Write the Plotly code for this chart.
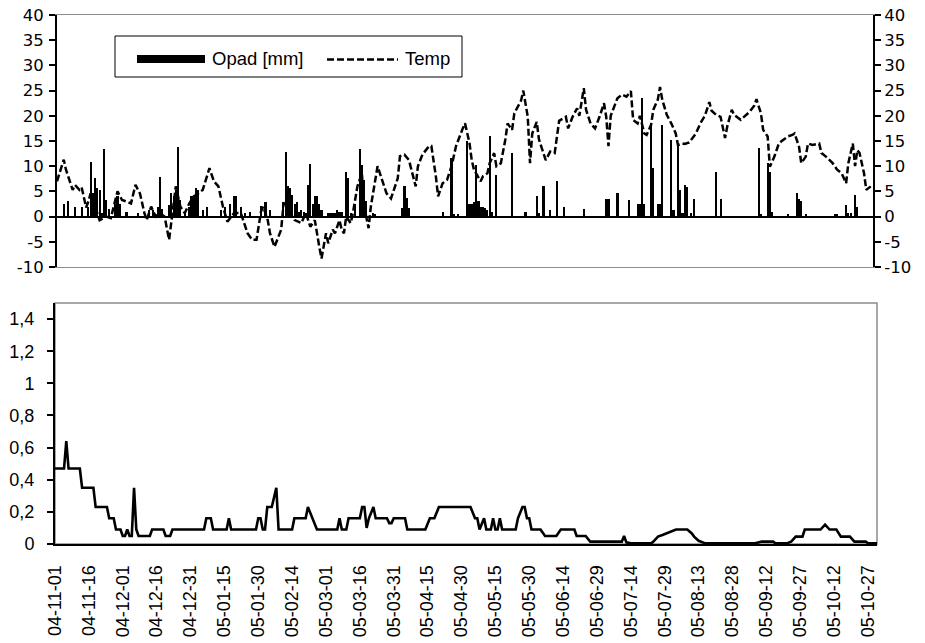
import pandas as pd
import plotly.graph_objects as go

START = "2004-11-01"

# ---- data (day index counted from 2004-11-01) ----
temp_day = [0, 3, 4, 6, 7, 8, 10, 11, 12, 13, 14, 15, 17, 18, 19, 22, 24, 27, 29, 31,
            33, 35, 37, 39, 40, 42, 44, 46, 48, 50, 52, 53, 55, 57, 59, 61, 63, 65, 68, 70,
            72, 74, 76, 79, 82, 85, 87, 89, 91, 92, 94, 95, 97, 100, 101, 103, 104, 106, 109, 111,
            113, 115, 117, 118, 120, 121, 123, 124, 126, 127, 128, 129, 131, 132, 134, 136, 137, 139, 140, 142,
            143, 145, 147, 149, 152, 153, 155, 157, 158, 160, 161, 163, 166, 167, 169, 170, 172, 174, 176, 178,
            181, 182, 184, 185, 186, 189, 190, 192, 193, 195, 196, 198, 200, 201, 203, 204, 207, 208, 210, 211,
            212, 214, 215, 218, 220, 222, 224, 227, 228, 230, 232, 233, 235, 236, 238, 240, 242, 244, 245, 246,
            247, 250, 252, 254, 256, 257, 259, 260, 262, 263, 265, 266, 268, 269, 270, 272, 274, 276, 277, 279,
            280, 282, 283, 285, 287, 289, 291, 292, 294, 296, 298, 299, 301, 302, 305, 307, 309, 311, 312, 314,
            315, 317, 318, 320, 322, 323, 326, 328, 329, 331, 332, 334, 335, 337, 340, 341, 343, 346, 348, 350,
            352, 353, 355, 356, 357, 358, 360, 361, 363]
temp_val = [7, 11.3, 9.3, 6.3, 5.3, 6.3, 5.3, 5.8, 3.5, 1.8, 3, 4.6, 2, 0.5, -0.7, 0, -0.3, 5, 3.3, 3,
            2.6, 6.3, 4.6, 0.7, -0.7, 2, 0, 0.7, 0, -4.6, 3.3, 6, 2, 0.7, 2.6, 4, 4.6, 5.3, 9.6, 7,
            6, 2, -1, 0.7, 0.7, -3.3, -4.6, -4.6, 1, 2, -0.7, -3.3, -6, -2.6, 2.3, 3.3, 0.7, -0.7, -1.3, 0.7,
            -2, -0.7, -6, -8.3, -3.3, -5.3, -2.6, -3.3, -0.7, -2.6, -3.3, 0, -1.3, 0.7, 6, 8.6, 2, -2.3, 2, 8,
            10, 7.3, 4.6, 3.6, 7.6, 12, 12.3, 11.2, 9.3, 6, 10, 12.3, 14, 14, 8, 4, 6.6, 7.3, 10, 14,
            17.5, 18.5, 14.6, 11.2, 9.3, 7, 8, 8.6, 10.6, 12.6, 10, 10.6, 15.3, 18.5, 17.2, 20.5, 23, 25, 19.8, 10.6,
            16.5, 18.8, 15.3, 11.2, 12.9, 12.6, 19, 19.8, 17.5, 19.8, 21.5, 20, 25.5, 21.2, 18.5, 17.5, 19.8, 22.5, 19.8, 14,
            20, 23.5, 24.2, 23.8, 24.9, 19.2, 18.5, 20, 16.5, 16.2, 18.2, 21.2, 23.2, 25.7, 23.2, 20.2, 18.5, 16.5, 14.2, 14.5,
            14.4, 14.7, 15.3, 16.5, 18.5, 20, 22.7, 21, 20.2, 19.8, 15.6, 17.9, 21.2, 20.2, 19.2, 20, 20.8, 22, 23.3, 20.5,
            17.2, 15.9, 9.9, 11.9, 14.5, 14.9, 15.9, 16.2, 16.5, 13.9, 10.6, 11.9, 14.5, 14.2, 14.5, 12.6, 11.9, 10.6, 9.3, 8.6,
            6.6, 10.6, 14.5, 10, 13.2, 12.6, 8.6, 5.3, 6]

prec_day = [3, 5, 8, 11, 14, 15, 16, 17, 18, 19, 20, 21, 22, 23, 26, 27, 28, 31, 36, 41,
            43, 45, 46, 47, 50, 51, 52, 53, 54, 55, 57, 59, 60, 61, 62, 63, 65, 67, 73, 75,
            77, 79, 80, 82, 84, 86, 91, 93, 95, 101, 102, 103, 104, 105, 106, 107, 108, 109, 110, 111,
            112, 113, 114, 115, 116, 117, 118, 121, 122, 123, 124, 125, 126, 127, 129, 130, 131, 133, 135, 136,
            137, 138, 141, 142, 154, 155, 156, 157, 172, 176, 177, 179, 183, 184, 185, 186, 187, 188, 189, 190,
            191, 192, 193, 194, 196, 203, 209, 214, 215, 217, 220, 223, 226, 235, 245, 246, 250, 255, 259, 260,
            261, 262, 265, 266, 268, 269, 270, 274, 275, 277, 278, 279, 280, 281, 283, 284, 294, 296, 313, 314,
            317, 318, 319, 326, 330, 331, 332, 334, 347, 348, 352, 353, 354, 356, 357]
prec_val = [2.5, 3, 2, 2, 2, 10.9, 4.6, 7.6, 5.6, 5.3, 0.7, 13.4, 3.3, 1.5, 2.6, 4, 2.6, 1, 0.8, 1.3,
            1.3, 2, 7.9, 1.5, 2.3, 4.6, 4, 5.3, 13.9, 3.3, 0.8, 2, 4, 4.3, 5.6, 5.3, 1.3, 2, 1.3, 2,
            2.6, 4, 4, 2, 0.8, 1, 2.1, 2.8, 1.3, 2.8, 12.9, 6, 5.6, 4.3, 2.6, 2.8, 1, 1.3, 1, 0.7,
            6.3, 10.4, 2.6, 4.1, 4, 2.6, 1.3, 0.7, 0.7, 0.8, 0.7, 1.3, 1, 1, 8.8, 7.6, 0.7, 2.6, 13.4, 10.3,
            7.3, 3, 0.7, 0.5, 1.7, 6, 3.6, 1.7, 1, 11.6, 0.5, 0.5, 15, 2.6, 2.6, 2.8, 10.3, 3, 2, 2,
            1.7, 1.3, 16, 1, 8.3, 12.6, 1, 4, 0.7, 6.1, 1.3, 7.1, 2, 1.5, 3.4, 3.4, 4.6, 3.3, 2.5, 2.5,
            23.5, 2.6, 18.2, 9.6, 2.6, 2.6, 18.2, 15.2, 1.3, 14.2, 5.3, 0.8, 6.3, 5.8, 0.7, 3.4, 8.8, 3.4, 13.6, 0.5,
            10.6, 8.8, 1, 0.5, 4.6, 3.4, 3, 0.5, 0.5, 0.5, 2.3, 0.7, 0.7, 4.3, 2]

low_day = [0, 4, 5, 6, 11, 12, 17, 18, 23, 24, 26, 27, 29, 30, 31, 32, 33, 34, 35, 36,
           37, 42, 43, 48, 49, 51, 52, 66, 67, 69, 70, 76, 77, 78, 89, 90, 91, 92, 93, 94,
           96, 98, 99, 105, 106, 111, 112, 114, 116, 125, 126, 127, 129, 130, 135, 136, 137, 138, 139, 141,
           142, 147, 148, 149, 150, 155, 156, 164, 166, 168, 170, 184, 186, 187, 188, 190, 191, 193, 194, 195,
           196, 197, 198, 204, 205, 207, 208, 209, 210, 211, 215, 217, 222, 224, 230, 231, 235, 237, 251, 252,
           253, 255, 264, 265, 267, 269, 271, 273, 275, 280, 282, 283, 285, 288, 310, 313, 318, 319, 324, 326,
           328, 331, 332, 339, 341, 343, 346, 348, 352, 354, 359, 360, 364]
low_val = [0.47, 0.47, 0.64, 0.47, 0.47, 0.35, 0.35, 0.23, 0.23, 0.16, 0.16, 0.09, 0.09, 0.05, 0.05, 0.09, 0.05, 0.05, 0.35, 0.09,
           0.05, 0.05, 0.09, 0.09, 0.05, 0.05, 0.09, 0.09, 0.16, 0.16, 0.09, 0.09, 0.16, 0.09, 0.09, 0.16, 0.16, 0.09, 0.09, 0.23,
           0.23, 0.35, 0.09, 0.09, 0.16, 0.16, 0.23, 0.16, 0.09, 0.09, 0.16, 0.09, 0.09, 0.16, 0.16, 0.23, 0.23, 0.1, 0.16, 0.23,
           0.16, 0.16, 0.13, 0.13, 0.16, 0.16, 0.09, 0.09, 0.16, 0.16, 0.23, 0.23, 0.16, 0.16, 0.09, 0.16, 0.09, 0.09, 0.16, 0.09,
           0.09, 0.16, 0.09, 0.09, 0.16, 0.23, 0.23, 0.16, 0.16, 0.09, 0.09, 0.05, 0.05, 0.09, 0.09, 0.05, 0.05, 0.015, 0.015, 0.05,
           0.01, 0.004, 0.004, 0.015, 0.046, 0.056, 0.066, 0.077, 0.09, 0.09, 0.066, 0.046, 0.02, 0.004, 0.004, 0.015, 0.015, 0.004, 0.004, 0.015,
           0.046, 0.046, 0.09, 0.09, 0.12, 0.09, 0.09, 0.046, 0.046, 0.015, 0.015, 0.004, 0.004]

top_tickvals = [-10, -5, 0, 5, 10, 15, 20, 25, 30, 35, 40]
top_ticktext = ["-10", "-5", "0", "5", "10", "15", "20", "25", "30", "35", "40"]
low_tickvals = [0, 0.2, 0.4, 0.6, 0.8, 1.0, 1.2, 1.4]
low_ticktext = ["0", "0,2", "0,4", "0,6", "0,8", "1", "1,2", "1,4"]

series_names = ["Opad [mm]", "Temp"]

# ---- build ----
t0 = pd.Timestamp(START)
to_dates = lambda days: [t0 + pd.Timedelta(days=d) for d in days]
DAY_MS = 86400000

W, H = 925, 643
FONT = "Liberation Sans, Arial, sans-serif"
FS = 18
TOP_TICK_FONT = dict(family="DejaVu Sans, Liberation Sans, sans-serif", size=16.5, color="black")

def px_x(x):
    return x / W

def px_y(y):
    return 1 - y / H

fig = go.Figure()

fig.add_trace(go.Bar(x=to_dates(prec_day), y=prec_val, width=DAY_MS * 0.95,
                     marker=dict(color="black", line=dict(width=0)),
                     name=series_names[0], xaxis="x", yaxis="y", showlegend=False))
fig.add_trace(go.Scatter(x=to_dates(temp_day), y=temp_val, mode="lines",
                         line=dict(color="black", width=2.5, dash="7px,3px"),
                         name=series_names[1], xaxis="x", yaxis="y2", showlegend=False))
fig.add_trace(go.Scatter(x=to_dates(low_day), y=low_val, mode="lines",
                         line=dict(color="black", width=2.6),
                         xaxis="x2", yaxis="y3", showlegend=False))

xr = [t0, t0 + pd.Timedelta(days=364)]

ytick_common = dict(ticks="outside", ticklen=6, tickwidth=1.5, tickcolor="black",
                    showgrid=False, showline=True, linecolor="black", linewidth=2,
                    automargin=False, ticklabeloverflow="allow")

fig.update_layout(
    width=W, height=H,
    margin=dict(l=0, r=0, t=0, b=0, autoexpand=False),
    paper_bgcolor="white", plot_bgcolor="white",
    font=dict(family=FONT, size=FS, color="black"),
    bargap=0,
    xaxis=dict(domain=[px_x(57), px_x(873)], anchor="y", type="date", range=xr,
               automargin=False,
               showticklabels=False, ticks="", showgrid=False, zeroline=False,
               showline=True, linecolor="#8c8c8c", linewidth=1.2, mirror=True),
    yaxis=dict(domain=[px_y(267), px_y(15)], anchor="x", range=[-10, 40],
               tickvals=top_tickvals, ticktext=top_ticktext, tickfont=TOP_TICK_FONT,
               ticklabelstandoff=2,
               zeroline=True, zerolinecolor="black", zerolinewidth=2.2, **ytick_common),
    yaxis2=dict(overlaying="y", side="right", anchor="x", range=[-10, 40],
                tickvals=top_tickvals, ticktext=top_ticktext, tickfont=TOP_TICK_FONT,
                zeroline=False, **ytick_common),
    xaxis2=dict(domain=[px_x(55), px_x(877)], anchor="y3", type="date", range=xr,
                automargin=False, ticklabeloverflow="allow",
                tick0=START, dtick=15 * DAY_MS, tickformat="%y-%m-%d", tickangle=-90,
                ticks="", ticklabelstandoff=12, showgrid=False, zeroline=False,
                showline=True, linecolor="black", linewidth=2),
    yaxis3=dict(domain=[px_y(544), px_y(303)], anchor="x2", range=[0, 1.5],
                tickvals=low_tickvals, ticktext=low_ticktext, ticklabelstandoff=9,
                zeroline=False, **ytick_common),
)

shapes = [
    # grey frame of the lower plot area
    dict(type="rect", xref="x2 domain", yref="y3 domain", x0=0, x1=1, y0=0, y1=1,
         line=dict(color="#8c8c8c", width=1.5), layer="below"),
    # custom legend box
    dict(type="rect", xref="paper", yref="paper", x0=px_x(115), x1=px_x(462),
         y0=px_y(77), y1=px_y(36), line=dict(color="black", width=1), fillcolor="white"),
    dict(type="rect", xref="paper", yref="paper", x0=px_x(137), x1=px_x(205),
         y0=px_y(63), y1=px_y(55), line=dict(width=0), fillcolor="black"),
    dict(type="line", xref="paper", yref="paper", x0=px_x(327), x1=px_x(398),
         y0=px_y(59.5), y1=px_y(59.5), line=dict(color="black", width=2.5, dash="7px,3px")),
]
annotations = [
    dict(xref="paper", yref="paper", x=px_x(210), y=px_y(59), text=series_names[0],
         showarrow=False, xanchor="left", yanchor="middle", font=dict(size=18.5)),
    dict(xref="paper", yref="paper", x=px_x(403), y=px_y(59), text=series_names[1],
         showarrow=False, xanchor="left", yanchor="middle", font=dict(size=18.5)),
]
fig.update_layout(shapes=shapes, annotations=annotations)

# remove the default page margin so the 925x643 figure fills the window exactly
fig.write_html("out.html", config={"displayModeBar": False},
               post_script="document.body.style.margin='0px';")
